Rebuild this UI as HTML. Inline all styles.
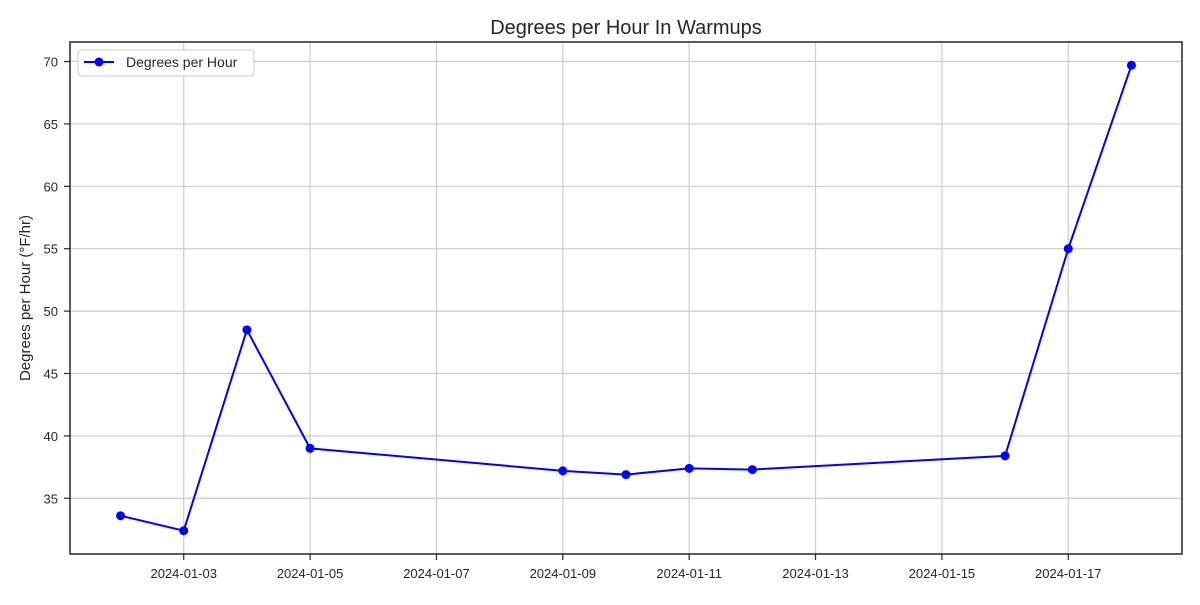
<!DOCTYPE html>
<html><head><meta charset="utf-8"><style>
body{margin:0;background:#fff;font-family:"Liberation Sans",sans-serif;}
svg text{font-family:"Liberation Sans",sans-serif;fill:#262626;}
</style></head><body>
<svg id="chart" width="1200" height="600" xmlns="http://www.w3.org/2000/svg">
<rect width="1200" height="600" fill="#fff"/>
<text x="626" y="34" font-size="20" text-anchor="middle">Degrees per Hour In Warmups</text>
<g id="grid"></g><g id="series"></g><g id="axes"></g>
<text transform="translate(30,298) rotate(-90)" font-size="15" text-anchor="middle">Degrees per Hour (°F/hr)</text>
<g>
<rect x="78" y="50" width="176" height="26" fill="#fff" stroke="#ccc" rx="3"/>
<line x1="84" y1="62" x2="114" y2="62" stroke="#0000ff" stroke-width="2"/>
<circle cx="99" cy="62" r="4.5" fill="#0000ff"/>
<text x="126" y="67" font-size="14">Degrees per Hour</text>
</g>
</svg>
<script>
const days=[2,3,4,5,9,10,11,12,16,17,18];
const values=[33.6,32.4,48.5,39.0,37.2,36.9,37.4,37.3,38.4,55.0,69.7];
const xTicks=[3,5,7,9,11,13,15,17];
const xTickLabels=["2024-01-03","2024-01-05","2024-01-07","2024-01-09","2024-01-11","2024-01-13","2024-01-15","2024-01-17"];
const yTicks=[35,40,45,50,55,60,65,70];

const L=70,R=1182,T=42,B=554,NS="http://www.w3.org/2000/svg";
const xmin=Math.min(...days),xmax=Math.max(...days),xr=xmax-xmin;
const ymin=Math.min(...values),ymax=Math.max(...values),yr=ymax-ymin;
const x0=xmin-0.05*xr,x1=xmax+0.05*xr,y0=ymin-0.05*yr,y1=ymax+0.05*yr;
const X=d=>L+(d-x0)/(x1-x0)*(R-L);
const Y=v=>B-(v-y0)/(y1-y0)*(B-T);
function mk(t,a,p){const e=document.createElementNS(NS,t);for(const k in a)e.setAttribute(k,a[k]);p.appendChild(e);return e;}
const grid=document.getElementById('grid'),axes=document.getElementById('axes'),ser=document.getElementById('series');
xTicks.forEach((d,i)=>{
 const g=mk('line',{x1:X(d),x2:X(d),y1:T,y2:B,stroke:'#cccccc','stroke-width':1.2},grid);
 
 
 const tk=mk('line',{x1:X(d),x2:X(d),y1:B,y2:B+6,stroke:'#262626','stroke-width':1.2},axes);
 
 
 const t=mk('text',{x:X(d),y:B+24,'font-size':13,'text-anchor':'middle'},axes);t.textContent=xTickLabels[i];
 
 
});
yTicks.forEach(v=>{
 const g=mk('line',{x1:L,x2:R,y1:Y(v),y2:Y(v),stroke:'#cccccc','stroke-width':1.2},grid);
 
 
 const tk=mk('line',{x1:L-6,x2:L,y1:Y(v),y2:Y(v),stroke:'#262626','stroke-width':1.2},axes);
 
 
 const t=mk('text',{x:L-12,y:Y(v)+5,'font-size':13,'text-anchor':'end'},axes);t.textContent=v;
 
 
});
const fr=mk('rect',{x:L,y:T,width:R-L,height:B-T,fill:'none',stroke:'#262626','stroke-width':1.5},axes);


const pl=mk('polyline',{points:days.map((d,i)=>X(d)+','+Y(values[i])).join(' '),fill:'none',stroke:'#0000ff','stroke-width':2},ser);


days.forEach((d,i)=>{
 const c=mk('circle',{cx:X(d),cy:Y(values[i]),r:4.5,fill:'#0000ff'},ser);
 
 
});
</script>
</body></html>
